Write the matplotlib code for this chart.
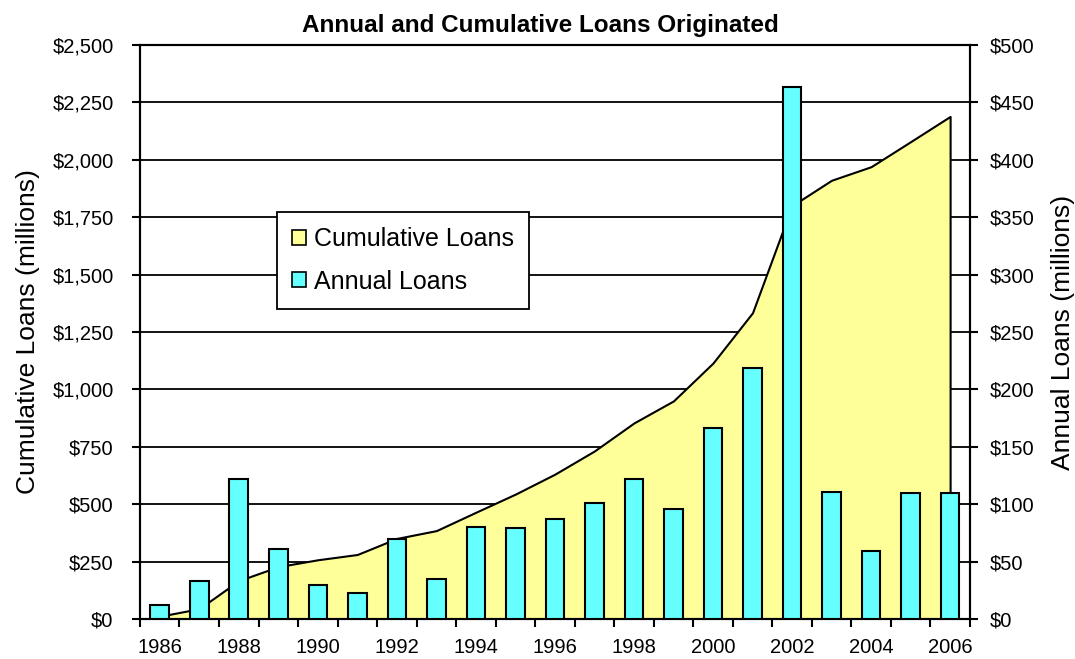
import numpy as np
import matplotlib
matplotlib.use("Agg")
import matplotlib.pyplot as plt
from matplotlib.patches import Patch
from matplotlib.ticker import FuncFormatter

plt.rcParams['font.family'] = ['Liberation Sans', 'DejaVu Sans']

# data (millions of dollars)
years = list(range(1986, 2007))
annual = [12, 33, 122, 61, 30, 23, 70, 35, 80, 79, 87,
          101, 122, 96, 166, 219, 463, 111, 59, 110, 110]
cumulative = [12, 45, 167, 228, 258, 281, 351, 385, 465, 544, 631,
              732, 854, 950, 1115, 1334, 1800, 1911, 1970, 2079, 2189]
left_ticks = list(range(0, 2501, 250))
right_ticks = list(range(0, 501, 50))

yellow = '#FFFF99'
cyan = '#66FFFF'

fig = plt.figure(figsize=(10.75, 6.59), dpi=100)
ax = fig.add_axes([0.1302, 0.0607, 0.772, 0.871])
ax2 = ax.twinx()

# cumulative area, drawn over the grid lines
ax.fill_between(years, cumulative, 0, facecolor=yellow, edgecolor='black',
                linewidth=1.5, zorder=2)
ax.set_ylim(0, 2500)
ax.set_yticks(left_ticks)
ax.yaxis.set_major_formatter(FuncFormatter(lambda v, p: f"${v:,.0f}"))
ax.set_axisbelow(True)
ax.grid(axis='y', color='black', linewidth=1.3)
ax.set_xlim(1985.5, 2006.5)

# annual bars on the right axis
ax2.bar(years, annual, width=0.47, color=cyan, edgecolor='black',
        linewidth=1.5, zorder=3)
ax2.set_ylim(0, 500)
ax2.set_yticks(right_ticks)
ax2.yaxis.set_major_formatter(FuncFormatter(lambda v, p: f"${v:,.0f}"))

# x ticks: labels every two years, tick marks between categories
ax.set_xticks(range(1986, 2007, 2))
ax.set_xticks(np.arange(1985.5, 2007, 1), minor=True)
ax.tick_params(axis='x', which='major', length=0, pad=14, labelsize=14.5)
ax.tick_params(axis='x', which='minor', length=6, width=1.5, direction='out')
ax.tick_params(axis='y', length=6, width=1.5, pad=13, labelsize=14.5)
ax2.tick_params(axis='y', length=6, width=1.5, pad=8, labelsize=14.5)

for a in (ax, ax2):
    for s in a.spines.values():
        s.set_linewidth(1.5)
        s.set_color('black')

ax.set_ylabel("Cumulative Loans (millions)", fontsize=19, labelpad=9)
ax2.set_ylabel("Annual Loans (millions)", fontsize=19, labelpad=12)
fig.text(0.503, 0.962, "Annual and Cumulative Loans Originated",
         ha='center', va='center', fontsize=17.5, fontweight='bold')

handles = [Patch(facecolor=yellow, edgecolor='black', linewidth=1.2),
           Patch(facecolor=cyan, edgecolor='black', linewidth=1.2)]
leg = ax2.legend(handles, ["Cumulative Loans", "Annual Loans"],
                 loc='upper left', bbox_to_anchor=(0.165, 0.709),
                 fontsize=18, fancybox=False, framealpha=1,
                 edgecolor='black', handlelength=0.55, handleheight=0.55,
                 handletextpad=0.35, labelspacing=0.75, borderpad=0.6,
                 borderaxespad=0)
leg.get_frame().set_linewidth(1.3)
leg.set_zorder(10)

fig.savefig("out.png", dpi=100)
